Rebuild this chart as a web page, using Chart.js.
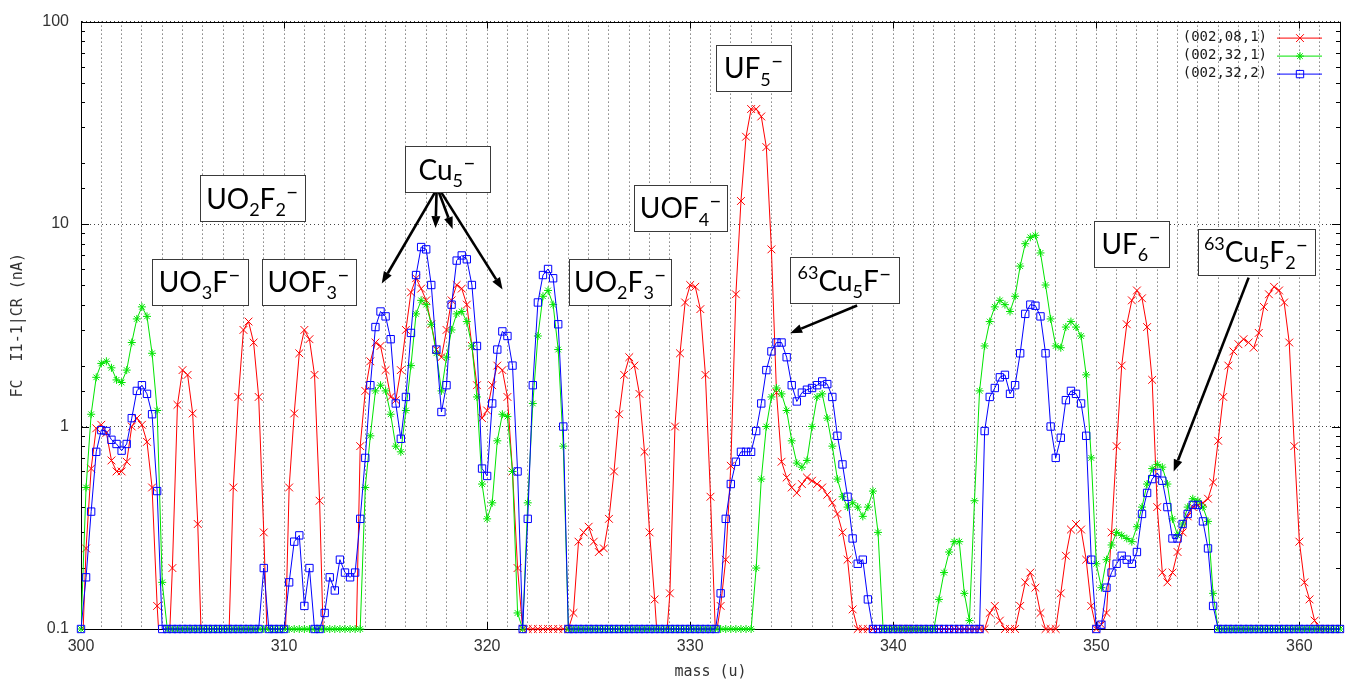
<!DOCTYPE html>
<html>
<head>
<meta charset="utf-8">
<script src="https://cdn.jsdelivr.net/npm/chart.js@4.4.1/dist/chart.umd.min.js"></script>
<style>
  html, body { margin: 0; padding: 0; background: #fff; }
  canvas { display: block; }
</style>
</head>
<body>
<canvas id="scan" width="1348" height="681"></canvas>
<script>
// Mass axis sampling of the scans (u)
const massStart = 300;
const massStep = 0.25;

// Faraday-cup current (nA), one value per mass step; values under 0.1 lie below the axis
const scan_002_08_1 = [
  0.05, 0.25, 0.62, 0.98,   // 300
  1.02, 0.93, 0.68, 0.60,   // 301
  0.60, 0.67, 1.00, 1.10,   // 302
  1.02, 0.84, 0.50, 0.13,   // 303
  0.05, 0.05, 0.20, 1.28,   // 304
  1.90, 1.80, 1.16, 0.33,   // 305
  0.05, 0.05, 0.05, 0.05,   // 306
  0.05, 0.07, 0.50, 1.40,   // 307
  3.00, 3.30, 2.60, 1.40,   // 308
  0.30, 0.05, 0.05, 0.05,   // 309
  0.05, 0.50, 1.16, 2.30,   // 310
  3.00, 2.70, 1.80, 0.43,   // 311
  0.05, 0.05, 0.05, 0.05,   // 312
  0.05, 0.05, 0.05, 0.80,   // 313
  1.50, 2.10, 2.60, 2.50,   // 314
  1.90, 1.40, 1.35, 1.90,   // 315
  3.00, 4.60, 5.40, 4.80,   // 316
  4.20, 3.20, 2.40, 2.20,   // 317
  3.00, 4.20, 5.00, 4.80,   // 318
  4.00, 2.50, 1.60, 1.10,   // 319
  1.20, 1.60, 2.00, 1.90,   // 320
  1.40, 0.60, 0.20, 0.10,   // 321
  0.10, 0.10, 0.10, 0.10,   // 322
  0.10, 0.10, 0.10, 0.10,   // 323
  0.10, 0.12, 0.27, 0.30,   // 324
  0.32, 0.27, 0.24, 0.25,   // 325
  0.35, 0.60, 1.15, 1.80,   // 326
  2.20, 2.00, 1.45, 0.75,   // 327
  0.30, 0.14, 0.06, 0.07,   // 328
  0.15, 1.00, 2.30, 4.10,   // 329
  5.00, 4.90, 3.80, 1.80,   // 330
  0.45, 0.09, 0.13, 0.22,   // 331
  0.64, 4.50, 13.0, 27.0,   // 332
  37.0, 37.0, 34.0, 24.0,   // 333
  7.50, 1.47, 0.67, 0.56,   // 334
  0.50, 0.47, 0.52, 0.56,   // 335
  0.54, 0.52, 0.50, 0.46,   // 336
  0.42, 0.37, 0.30, 0.22,   // 337
  0.125, 0.10, 0.10, 0.10,  // 338
  0.10, 0.10, 0.10, 0.10,   // 339
  0.10, 0.10, 0.10, 0.10,   // 340
  0.10, 0.10, 0.10, 0.10,   // 341
  0.10, 0.10, 0.10, 0.10,   // 342
  0.10, 0.10, 0.10, 0.10,   // 343
  0.10, 0.10, 0.10, 0.12,   // 344
  0.13, 0.11, 0.10, 0.10,   // 345
  0.10, 0.13, 0.17, 0.19,   // 346
  0.16, 0.12, 0.10, 0.10,   // 347
  0.10, 0.15, 0.23, 0.31,   // 348
  0.33, 0.31, 0.22, 0.13,   // 349
  0.10, 0.105, 0.12, 0.30,  // 350
  0.80, 2.00, 3.20, 4.20,   // 351
  4.70, 4.30, 3.10, 1.70,   // 352
  0.40, 0.19, 0.17, 0.19,   // 353
  0.24, 0.30, 0.36, 0.40,   // 354
  0.41, 0.42, 0.44, 0.53,   // 355
  0.85, 1.40, 2.00, 2.35,   // 356
  2.55, 2.70, 2.60, 2.45,   // 357
  2.90, 3.90, 4.50, 4.90,   // 358
  4.70, 4.10, 2.60, 0.80,   // 359
  0.27, 0.17, 0.14, 0.11,   // 360
  0.10, 0.10, 0.10, 0.10,   // 361
  0.10                      // 362
];

const scan_002_32_1 = [
  0.10, 0.50, 1.15, 1.75,   // 300
  2.05, 2.10, 1.95, 1.70,   // 301
  1.65, 1.90, 2.60, 3.40,   // 302
  3.90, 3.50, 2.30, 1.20,   // 303
  0.17, 0.10, 0.10, 0.10,   // 304
  0.10, 0.10, 0.10, 0.10,   // 305
  0.10, 0.10, 0.10, 0.10,   // 306
  0.10, 0.10, 0.10, 0.10,   // 307
  0.10, 0.10, 0.10, 0.10,   // 308
  0.10, 0.10, 0.10, 0.10,   // 309
  0.10, 0.10, 0.10, 0.10,   // 310
  0.10, 0.10, 0.10, 0.10,   // 311
  0.10, 0.10, 0.10, 0.10,   // 312
  0.10, 0.10, 0.10, 0.10,   // 313
  0.50, 0.90, 1.50, 1.60,   // 314
  1.50, 1.15, 0.80, 0.75,   // 315
  1.20, 2.00, 3.60, 4.20,   // 316
  4.00, 3.20, 2.30, 1.50,   // 317
  2.20, 3.00, 3.60, 3.70,   // 318
  3.30, 2.50, 1.40, 0.52,   // 319
  0.35, 0.42, 0.85, 1.15,   // 320
  1.12, 0.60, 0.12, 0.10,   // 321
  0.42, 1.30, 2.80, 4.40,   // 322
  4.70, 4.00, 2.40, 0.80,   // 323
  0.10, 0.10, 0.10, 0.10,   // 324
  0.10, 0.10, 0.10, 0.10,   // 325
  0.10, 0.10, 0.10, 0.10,   // 326
  0.10, 0.10, 0.10, 0.10,   // 327
  0.10, 0.10, 0.10, 0.10,   // 328
  0.10, 0.10, 0.10, 0.10,   // 329
  0.10, 0.10, 0.10, 0.10,   // 330
  0.10, 0.10, 0.10, 0.10,   // 331
  0.10, 0.10, 0.10, 0.10,   // 332
  0.10, 0.20, 0.55, 1.00,   // 333
  1.40, 1.55, 1.45, 1.20,   // 334
  0.85, 0.66, 0.63, 0.68,   // 335
  1.00, 1.40, 1.45, 1.10,   // 336
  0.80, 0.55, 0.45, 0.40,   // 337
  0.42, 0.40, 0.36, 0.40,   // 338
  0.48, 0.30, 0.10, 0.10,   // 339
  0.10, 0.10, 0.10, 0.10,   // 340
  0.10, 0.10, 0.10, 0.10,   // 341
  0.10, 0.14, 0.19, 0.24,   // 342
  0.27, 0.27, 0.15, 0.11,   // 343
  0.43, 1.50, 2.50, 3.30,   // 344
  3.90, 4.20, 4.00, 3.70,   // 345
  4.40, 6.20, 8.00, 8.60,   // 346
  8.80, 7.20, 5.00, 3.40,   // 347
  2.50, 2.45, 3.10, 3.30,   // 348
  3.10, 2.80, 1.80, 0.70,   // 349
  0.21, 0.16, 0.22, 0.26,   // 350
  0.30, 0.29, 0.28, 0.27,   // 351
  0.32, 0.40, 0.52, 0.62,   // 352
  0.65, 0.63, 0.52, 0.35,   // 353
  0.29, 0.33, 0.40, 0.44,   // 354
  0.43, 0.40, 0.34, 0.15,   // 355
  0.10, 0.10, 0.10, 0.10,   // 356
  0.10, 0.10, 0.10, 0.10,   // 357
  0.10, 0.10, 0.10, 0.10,   // 358
  0.10, 0.10, 0.10, 0.10,   // 359
  0.10, 0.10, 0.10, 0.10,   // 360
  0.10, 0.10, 0.10, 0.10,   // 361
  0.10                      // 362
];

const scan_002_32_2 = [
  0.10, 0.18, 0.38, 0.75,   // 300
  0.96, 0.95, 0.86, 0.82,   // 301
  0.76, 0.82, 1.10, 1.50,   // 302
  1.60, 1.45, 1.15, 0.48,   // 303
  0.10, 0.10, 0.10, 0.10,   // 304
  0.10, 0.10, 0.10, 0.10,   // 305
  0.10, 0.10, 0.10, 0.10,   // 306
  0.10, 0.10, 0.10, 0.10,   // 307
  0.10, 0.10, 0.10, 0.10,   // 308
  0.20, 0.10, 0.10, 0.10,   // 309
  0.10, 0.17, 0.27, 0.29,   // 310
  0.13, 0.20, 0.10, 0.10,   // 311
  0.12, 0.18, 0.155, 0.22,  // 312
  0.19, 0.18, 0.19, 0.35,   // 313
  0.70, 1.60, 3.10, 3.70,   // 314
  3.50, 2.70, 1.30, 0.87,   // 315
  1.40, 2.90, 5.60, 7.70,   // 316
  7.50, 5.00, 2.40, 1.18,   // 317
  1.60, 4.00, 6.60, 7.00,   // 318
  6.70, 5.00, 2.50, 0.62,   // 319
  0.57, 1.30, 2.40, 2.95,   // 320
  2.80, 2.00, 0.60, 0.10,   // 321
  0.35, 1.60, 4.10, 5.60,   // 322
  6.00, 5.40, 3.20, 1.00,   // 323
  0.10, 0.10, 0.10, 0.10,   // 324
  0.10, 0.10, 0.10, 0.10,   // 325
  0.10, 0.10, 0.10, 0.10,   // 326
  0.10, 0.10, 0.10, 0.10,   // 327
  0.10, 0.10, 0.10, 0.10,   // 328
  0.10, 0.10, 0.10, 0.10,   // 329
  0.10, 0.10, 0.10, 0.10,   // 330
  0.10, 0.10, 0.15, 0.35,   // 331
  0.52, 0.67, 0.75, 0.75,   // 332
  0.75, 0.95, 1.30, 1.90,   // 333
  2.35, 2.60, 2.60, 2.20,   // 334
  1.60, 1.33, 1.47, 1.52,   // 335
  1.55, 1.60, 1.67, 1.62,   // 336
  1.40, 0.90, 0.65, 0.45,   // 337
  0.28, 0.21, 0.22, 0.14,   // 338
  0.10, 0.10, 0.10, 0.10,   // 339
  0.10, 0.10, 0.10, 0.10,   // 340
  0.10, 0.10, 0.10, 0.10,   // 341
  0.10, 0.10, 0.10, 0.10,   // 342
  0.10, 0.10, 0.10, 0.10,   // 343
  0.10, 0.10, 0.95, 1.40,   // 344
  1.55, 1.75, 1.80, 1.45,   // 345
  1.60, 2.30, 3.60, 4.00,   // 346
  3.95, 3.50, 2.30, 1.00,   // 347
  0.70, 0.88, 1.35, 1.50,   // 348
  1.45, 1.30, 0.90, 0.22,   // 349
  0.10, 0.105, 0.16, 0.19,  // 350
  0.21, 0.23, 0.22, 0.21,   // 351
  0.24, 0.37, 0.47, 0.55,   // 352
  0.59, 0.54, 0.40, 0.28,   // 353
  0.28, 0.33, 0.37, 0.41,   // 354
  0.41, 0.34, 0.25, 0.13,   // 355
  0.10, 0.10, 0.10, 0.10,   // 356
  0.10, 0.10, 0.10, 0.10,   // 357
  0.10, 0.10, 0.10, 0.10,   // 358
  0.10, 0.10, 0.10, 0.10,   // 359
  0.10, 0.10, 0.10, 0.10,   // 360
  0.10, 0.10, 0.10, 0.10,   // 361
  0.10                      // 362
];

const seriesNames = ['(002,08,1)', '(002,32,1)', '(002,32,2)'];
const massTickLabels = [300, 310, 320, 330, 340, 350, 360];
const currentTickLabels = [0.1, 1, 10, 100];

// Ion labels: text with _{sub} / ^{sup} markup, centre in (mass, current), box width in px
const ionLabels = [
  { text: 'UO_{3}F^{–}',          mass: 305.85, value: 5.2,  w: 96 },
  { text: 'UO_{2}F_{2}^{–}',      mass: 308.44, value: 13.4, w: 105 },
  { text: 'UOF_{3}^{–}',          mass: 311.21, value: 5.2,  w: 94 },
  { text: 'Cu_{5}^{–}',           mass: 318.03, value: 18.6, w: 85 },
  { text: 'UO_{2}F_{3}^{–}',      mass: 326.56, value: 5.2,  w: 102 },
  { text: 'UOF_{4}^{–}',          mass: 329.54, value: 12.0, w: 93 },
  { text: 'UF_{5}^{–}',           mass: 333.13, value: 59,   w: 75 },
  { text: '^{63}Cu_{5}F^{–}',     mass: 337.60, value: 5.28, w: 109 },
  { text: 'UF_{6}^{–}',           mass: 351.72, value: 8.0,  w: 75 },
  { text: '^{63}Cu_{5}F_{2}^{–}', mass: 357.87, value: 7.3,  w: 117 }
];

// Pointer arrows, [mass, current] tail -> head
const ionArrows = [
  [[317.46, 14.5], [314.81, 5.08]],
  [[317.51, 14.5], [317.46, 9.55]],
  [[317.61, 14.5], [318.30, 9.45]],
  [[317.71, 14.5], [320.76, 4.75]],
  [[338.22, 3.96], [334.92, 2.89]],
  [[357.50, 5.44], [353.81, 0.60]]
];

const masses = scan_002_08_1.map((_, i) => massStart + i * massStep);
const toPoints = vals => vals.map((v, i) => ({ x: masses[i], y: v }));

const seriesStyles = [
  { values: scan_002_08_1, color: '#ff0000', pointStyle: 'crossRot', radius: 5.5 },
  { values: scan_002_32_1, color: '#00e400', pointStyle: 'star',     radius: 4 },
  { values: scan_002_32_2, color: '#0000ff', pointStyle: 'rect',     radius: 5.2 }
];

const isDecade = v => { const l = Math.log10(v); return Math.abs(l - Math.round(l)) < 1e-6; };

const datasets = [];
seriesStyles.forEach((s, i) => {
  const pts = toPoints(s.values);
  datasets.push({
    label: seriesNames[i],
    data: pts,
    borderColor: s.color,
    borderWidth: 1,
    pointRadius: 0,
    tension: 0,
    fill: false,
    clip: { left: 0, top: 0, right: 0, bottom: 1 },
    order: 10 - 2 * i
  });
  datasets.push({
    label: seriesNames[i] + ' markers',
    data: pts.filter(p => p.y >= 0.1),
    showLine: false,
    borderColor: s.color,
    pointBorderColor: s.color,
    pointBackgroundColor: 'rgba(0,0,0,0)',
    pointBorderWidth: 1,
    pointStyle: s.pointStyle,
    pointRadius: s.radius,
    clip: 7,
    order: 9 - 2 * i
  });
});

function parseRich(str) {
  const parts = [];
  const re = /([_^])\{([^}]*)\}|([^_^]+)/g;
  let m;
  while ((m = re.exec(str))) {
    if (m[3]) parts.push({ t: m[3], k: '' });
    else parts.push({ t: m[2], k: m[1] === '_' ? 'sub' : 'sup' });
  }
  return parts;
}

function drawRich(ctx, str, cx, cy, size) {
  const parts = parseRich(str);
  const big = size + 'px Lato';
  const small = Math.round(size * 0.64) + 'px Lato';
  const dash = Math.round(size * 0.78) + 'px Lato';
  const fontOf = p => (p.k === 'sup' && p.t === '–' ? dash : (p.k ? small : big));
  let w = 0;
  parts.forEach(p => { ctx.font = fontOf(p); p.w = ctx.measureText(p.t).width; w += p.w; });
  let x = cx - w / 2;
  const base = cy + size * 0.37;
  ctx.textBaseline = 'alphabetic';
  ctx.textAlign = 'left';
  parts.forEach(p => {
    ctx.font = fontOf(p);
    let dy = 0;
    if (p.k === 'sub') dy = size * 0.26;
    if (p.k === 'sup') dy = p.t === '–' ? -size * 0.36 : -size * 0.42;
    ctx.fillText(p.t, x, base + dy);
    x += p.w;
  });
}

function drawArrow(ctx, x1, y1, x2, y2) {
  const ang = Math.atan2(y2 - y1, x2 - x1);
  const L = 12, W = 4.5;
  const bx = x2 - L * Math.cos(ang), by = y2 - L * Math.sin(ang);
  ctx.lineWidth = 2.6;
  ctx.beginPath();
  ctx.moveTo(x1, y1);
  ctx.lineTo(bx, by);
  ctx.stroke();
  ctx.beginPath();
  ctx.moveTo(x2, y2);
  ctx.lineTo(bx + W * Math.sin(ang), by - W * Math.cos(ang));
  ctx.lineTo(bx - W * Math.sin(ang), by + W * Math.cos(ang));
  ctx.closePath();
  ctx.fill();
}

// Frame with inward tick marks on all four sides
const framePlugin = {
  id: 'frame',
  beforeDatasetsDraw(chart) {
    const { ctx, chartArea: a, scales: { x, y } } = chart;
    ctx.save();
    ctx.strokeStyle = '#000';
    ctx.lineWidth = 1;
    ctx.beginPath();
    y.ticks.forEach(t => {
      const py = Math.round(y.getPixelForValue(t.value)) + 0.5;
      const len = isDecade(t.value) ? 8 : 4;
      ctx.moveTo(a.left, py); ctx.lineTo(a.left + len, py);
      ctx.moveTo(a.right, py); ctx.lineTo(a.right - len, py);
    });
    massTickLabels.forEach(v => {
      const px = Math.round(x.getPixelForValue(v)) + 0.5;
      ctx.moveTo(px, a.bottom); ctx.lineTo(px, a.bottom - 7);
      ctx.moveTo(px, a.top); ctx.lineTo(px, a.top + 7);
    });
    ctx.stroke();
    ctx.strokeRect(Math.round(a.left) + 0.5, Math.round(a.top) + 0.5,
                   Math.round(a.right - a.left), Math.round(a.bottom - a.top));
    ctx.restore();
  }
};

// Key in the upper right corner and the ion labels with pointers
const overlayPlugin = {
  id: 'overlay',
  afterDatasetsDraw(chart) {
    const { ctx, chartArea: a, scales: { x, y } } = chart;
    ctx.save();
    ctx.font = '14px "DejaVu Sans Mono"';
    ctx.textBaseline = 'middle';
    seriesStyles.forEach((s, i) => {
      const yy = a.top + 16 + i * 18;
      ctx.textAlign = 'right';
      ctx.fillStyle = '#1a1a1a';
      ctx.fillText(seriesNames[i], a.right - 73, yy);
      ctx.strokeStyle = s.color;
      ctx.lineWidth = 1;
      ctx.beginPath();
      ctx.moveTo(a.right - 63, yy + 0.5);
      ctx.lineTo(a.right - 18, yy + 0.5);
      ctx.stroke();
      ctx.fillStyle = 'rgba(0,0,0,0)';
      Chart.helpers.drawPoint(ctx, { pointStyle: s.pointStyle, radius: s.radius, rotation: 0, borderWidth: 1 }, a.right - 40, yy + 0.5);
    });

    ctx.strokeStyle = '#000';
    ctx.fillStyle = '#000';
    ionArrows.forEach(([from, to]) => {
      drawArrow(ctx, x.getPixelForValue(from[0]), y.getPixelForValue(from[1]),
                     x.getPixelForValue(to[0]), y.getPixelForValue(to[1]));
    });

    ionLabels.forEach(lab => {
      const cx = x.getPixelForValue(lab.mass);
      const cy = y.getPixelForValue(lab.value);
      const h = 46;
      const bx = Math.round(cx - lab.w / 2) + 0.5, by = Math.round(cy - h / 2) + 0.5;
      ctx.fillStyle = '#fff';
      ctx.fillRect(bx, by, lab.w, h);
      ctx.strokeStyle = '#3a3a3a';
      ctx.lineWidth = 1;
      ctx.strokeRect(bx, by, lab.w, h);
      ctx.fillStyle = '#000';
      drawRich(ctx, lab.text, cx, cy, 28);
    });
    ctx.restore();
  }
};

new Chart(document.getElementById('scan'), {
  type: 'line',
  data: { datasets },
  options: {
    responsive: false,
    animation: false,
    devicePixelRatio: 1,
    layout: { padding: { top: 17, right: 7, left: 0, bottom: 0 } },
    plugins: { legend: { display: false }, tooltip: { enabled: false } },
    scales: {
      x: {
        type: 'linear',
        min: 300,
        max: 362,
        afterFit: s => { s.height = 52; },
        ticks: {
          stepSize: 1,
          maxTicksLimit: 100,
          autoSkip: false,
          maxRotation: 0,
          padding: 8,
          color: '#333',
          font: { family: 'Liberation Sans', size: 16 },
          callback: v => (massTickLabels.includes(v) ? String(v) : '')
        },
        grid: { color: '#444', lineWidth: 1, drawTicks: false },
        border: { display: true, color: '#000', width: 1, dash: [1, 3] },
        title: {
          display: true,
          text: 'mass (u)',
          color: '#333',
          font: { family: 'DejaVu Sans Mono', size: 15 },
          padding: { top: 0, bottom: 0 }
        }
      },
      y: {
        type: 'logarithmic',
        min: 0.1,
        max: 100,
        afterFit: s => { s.width = 81; },
        ticks: {
          autoSkip: false,
          padding: 12,
          color: '#333',
          font: { family: 'Liberation Sans', size: 16 },
          callback: v => {
            const hit = currentTickLabels.find(t => Math.abs(t - v) < 1e-9 * Math.max(1, t));
            return hit !== undefined ? String(hit) : '';
          }
        },
        grid: {
          drawTicks: false,
          lineWidth: 1,
          color: c => (c.tick && isDecade(c.tick.value) ? '#444' : 'rgba(0,0,0,0)')
        },
        border: { display: true, color: '#000', width: 1, dash: [1, 3] },
        title: {
          display: true,
          text: 'FC  I1-1|CR (nA)',
          color: '#333',
          font: { family: 'DejaVu Sans Mono', size: 15 },
          padding: { top: 9, bottom: 0 }
        }
      }
    }
  },
  plugins: [framePlugin, overlayPlugin]
});
</script>
</body>
</html>
